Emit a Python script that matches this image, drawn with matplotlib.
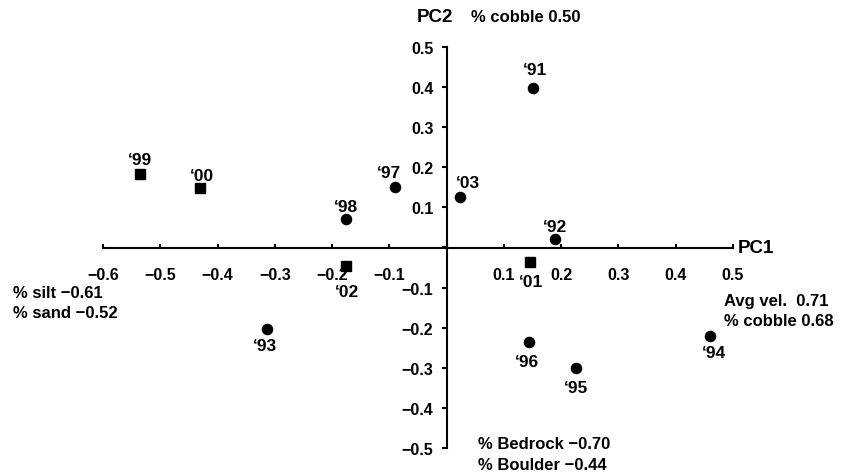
import matplotlib
matplotlib.use("Agg")
import matplotlib.pyplot as plt
from matplotlib.ticker import FuncFormatter, MultipleLocator

plt.rcParams['font.family'] = ['Liberation Sans', 'DejaVu Sans']
plt.rcParams['font.weight'] = 'bold'

# Data (PCA scores by year)
years = ["‘91", "‘92", "‘93", "‘94", "‘95", "‘96", "‘97", "‘98",
         "‘99", "‘00", "‘01", "‘02", "‘03"]
pc1 = [0.150, 0.189, -0.313, 0.460, 0.226, 0.143, -0.091, -0.175,
       -0.536, -0.430, 0.145, -0.176, 0.023]
pc2 = [0.398, 0.022, -0.204, -0.221, -0.301, -0.236, 0.152, 0.072,
       0.184, 0.149, -0.037, -0.045, 0.127]
marker_kind = ["o", "o", "o", "o", "o", "o", "o", "o",
               "s", "s", "s", "s", "o"]
# label offsets in points (dx, dy)
label_offsets = [(2, 13), (0, 9), (-2, -12), (3, -12), (0, -14), (-1, -14),
                 (-4, 10), (0, 9), (0, 10), (1, 9), (1, -14), (1, -19), (6, 10)]

loadings_left = ["% silt \u22120.61", "% sand \u22120.52"]
loadings_right = ["Avg vel.  0.71", "% cobble 0.68"]
loadings_bottom = ["% Bedrock \u22120.70", "% Boulder \u22120.44"]
loadings_top = "% cobble 0.50"

W, H = 845, 477
fig = plt.figure(figsize=(W / 100, H / 100), dpi=100)
ax = fig.add_axes([103 / W, (H - 449) / H, 630 / W, 401 / H])
ax.set_xlim(-0.6, 0.5)
ax.set_ylim(-0.5, 0.5)

for x, y, m in zip(pc1, pc2, marker_kind):
    ax.plot([x], [y], marker=m, color='black', markersize=7.3 if m == 'o' else 7.0,
            linestyle='none', clip_on=False)
for x, y, lab, (dx, dy) in zip(pc1, pc2, years, label_offsets):
    ax.annotate(lab, (x, y), xytext=(dx, dy), textcoords='offset points',
                ha='center', va='center', fontsize=12.5, fontweight='bold')

for s in ['top', 'right']:
    ax.spines[s].set_visible(False)
ax.spines['left'].set_position(('data', 0))
ax.spines['bottom'].set_position(('data', 0))
ax.spines['left'].set_linewidth(1.5)
ax.spines['bottom'].set_linewidth(1.5)

ax.xaxis.set_major_locator(MultipleLocator(0.1))
ax.yaxis.set_major_locator(MultipleLocator(0.1))

def fmt(v, pos):
    if abs(v) < 1e-9:
        return ''
    return f"{v:.1f}".replace('-', '\u2212')

ax.xaxis.set_major_formatter(FuncFormatter(fmt))
ax.yaxis.set_major_formatter(FuncFormatter(fmt))
ax.tick_params(axis='x', direction='in', length=3, width=1.5, pad=14, labelsize=11.5)
ax.tick_params(axis='y', direction='out', length=3.6, width=1.5, pad=6, labelsize=11.5)
for lab in ax.get_xticklabels() + ax.get_yticklabels():
    lab.set_fontweight('bold')

ax.text(0.508, 0.0, "PC1", fontsize=13.5, fontweight='bold', ha='left', va='center',
        clip_on=False)
ax.text(-0.021, 0.575, "PC2", fontsize=13.5, fontweight='bold', ha='center', va='center',
        clip_on=False)
ax.text(0.042, 0.577, loadings_top, fontsize=12, fontweight='bold', ha='left', va='center',
        clip_on=False)
for i, t in enumerate(loadings_left):
    ax.text(-0.758, -0.112 - 0.05 * i, t, fontsize=12, fontweight='bold', ha='left',
            va='center', clip_on=False)
for i, t in enumerate(loadings_right):
    ax.text(0.485, -0.132 - 0.05 * i, t, fontsize=12, fontweight='bold', ha='left',
            va='center', clip_on=False)
for i, t in enumerate(loadings_bottom):
    ax.text(0.054, -0.49 - 0.052 * i, t, fontsize=12, fontweight='bold', ha='left',
            va='center', clip_on=False)

fig.savefig("out.png", dpi=100)
